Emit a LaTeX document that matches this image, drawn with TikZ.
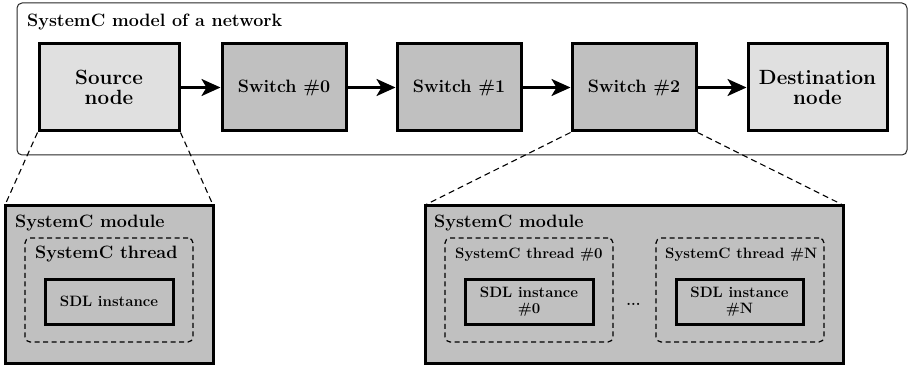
\documentclass[tikz,border=0pt]{standalone}
\usetikzlibrary{arrows.meta}
\definecolor{lightbox}{HTML}{E0E0E0}
\definecolor{darkbox}{HTML}{C0C0C0}
\newcommand\fntL{\fontsize{20.6}{20}\selectfont\bfseries}
\newcommand\fntM{\fontsize{17.9}{20}\selectfont\bfseries}
\newcommand\fntS{\fontsize{15}{16}\selectfont\bfseries}
\begin{document}
\begin{tikzpicture}[x=1pt,y=-1pt,
  block/.style={draw=black, line width=3pt, inner sep=0pt, align=center},
  netnode/.style={block, minimum height=87pt},
  module/.style={block, fill=darkbox, minimum width=#1, minimum height=158pt},
  thread/.style={draw=black, line width=1.2pt, dash pattern=on 5pt off 3.5pt,
                 rounded corners=5pt, minimum width=168pt, minimum height=104pt, inner sep=0pt},
  sdl/.style={block, fill=darkbox, minimum height=45pt, font=\fntS},
  link/.style={line width=2.7pt, -{Stealth[length=19pt, width=17pt, inset=5pt]}},
  zoomline/.style={line width=1.1pt, dash pattern=on 6pt off 4pt},
  label/.style={inner sep=0pt, anchor=base west}]
\useasboundingbox (0,0) rectangle (909,366);

% network container
\node[draw=black!85, line width=1pt, rounded corners=5pt,
      minimum width=890pt, minimum height=152pt, inner sep=0pt] (net) at (462,79) {};
\node[label, font=\fntM] (nettitle) at (27,26.5) {SystemC model of a network};

% network nodes
\node[netnode, fill=lightbox, minimum width=140pt, font=\fntL] (src) at (109,87.5) {Source\\node};
\node[netnode, fill=darkbox, minimum width=124pt, font=\fntM] (sw0) at (284,87.5) {Switch \#0};
\node[netnode, fill=darkbox, minimum width=124pt, font=\fntM] (sw1) at (459,87.5) {Switch \#1};
\node[netnode, fill=darkbox, minimum width=124pt, font=\fntM] (sw2) at (634,87.5) {Switch \#2};
\node[netnode, fill=lightbox, minimum width=139pt, font=\fntL] (dst) at (817.5,87.5) {Destination\\node};

\draw[link] (src) -- (sw0);
\draw[link] (sw0) -- (sw1);
\draw[link] (sw1) -- (sw2);
\draw[link] (sw2) -- (dst);

% corners of the two modules, where the zoom lines end
\coordinate (lmodNW) at (5,205);
\coordinate (lmodNE) at (213,205);
\coordinate (rmodNW) at (425,205);
\coordinate (rmodNE) at (843,205);
\draw[zoomline] (src.south west) -- (lmodNW);
\draw[zoomline] (src.south east) -- (lmodNE);
\draw[zoomline] (sw2.south west) -- (rmodNW);
\draw[zoomline] (sw2.south east) -- (rmodNE);

% source node module
\node[module=208pt] (lmod) at (109,284) {};
\node[label, font=\fntM] (lmodtitle) at (15,227) {SystemC module};
\node[thread] (lthr) at (109,290) {};
\node[label, font=\fntM] (lthrtitle) at (35,258.5) {SystemC thread};
\node[sdl, minimum width=128pt] (lsdl) at (109,301.5) {SDL instance};

% switch module
\node[module=418pt] (rmod) at (634,284) {};
\node[label, font=\fntM] (rmodtitle) at (434,227) {SystemC module};
\node[thread] (thr0) at (529,290) {};
\node[label, font=\fntS] (thr0title) at (455,258) {SystemC thread \#0};
\node[sdl, minimum width=128pt] (sdl0) at (529,301.5) {SDL instance\\\#0};
\node[thread] (thrN) at (740,290) {};
\node[label, font=\fntS] (thrNtitle) at (665,258) {SystemC thread \#N};
\node[sdl, minimum width=127pt] (sdlN) at (739.5,301.5) {SDL instance\\\#N};
\node[inner sep=0pt, font=\fntS, anchor=base] (dots) at (633.5,305) {...};
\end{tikzpicture}
\end{document}
